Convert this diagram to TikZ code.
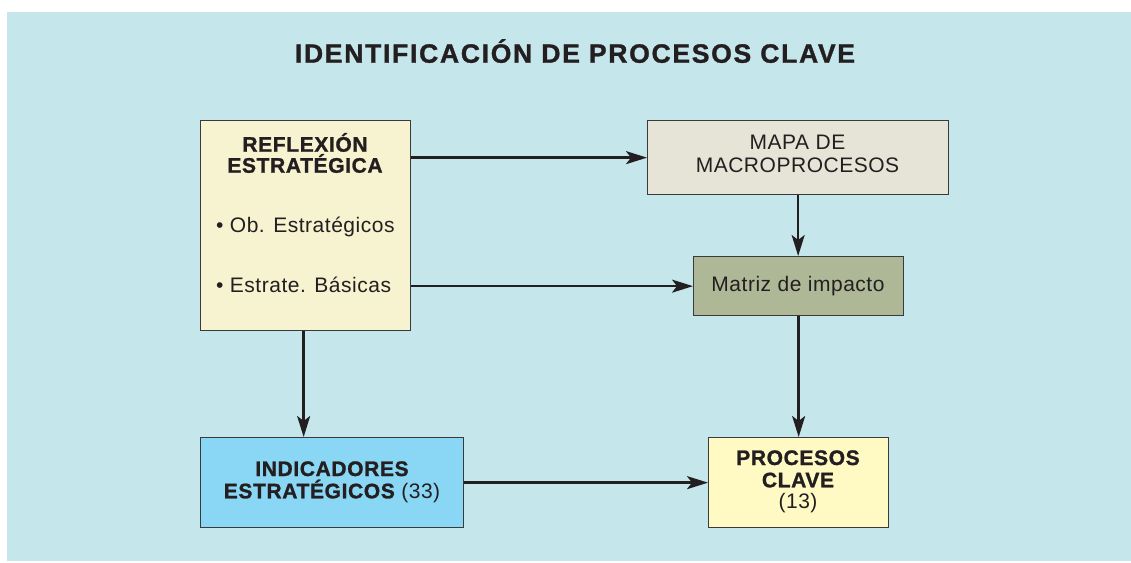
\documentclass[tikz,border=0pt]{standalone}
\usepackage{fontspec}
\setmainfont{Liberation Sans}[LetterSpace=2.5,BoldFeatures={LetterSpace=3,FakeBold=1.2}]
\newfontfamily\titlefont{Liberation Sans}[LetterSpace=6.5,BoldFeatures={LetterSpace=6.5,FakeBold=1.2}]
\usetikzlibrary{arrows.meta}
\definecolor{bg}{HTML}{C5E6EB}
\definecolor{reflc}{HTML}{F7F2D0}
\definecolor{mapac}{HTML}{E6E4D6}
\definecolor{matc}{HTML}{AEB896}
\definecolor{indc}{HTML}{8AD6F5}
\definecolor{procc}{HTML}{FFF9C4}
\definecolor{boxline}{HTML}{3A3A3A}
\definecolor{txt}{HTML}{231F20}
\begin{document}
\begin{tikzpicture}[x=1pt,y=-1pt,
  box/.style={draw=boxline, line width=1.3pt, inner sep=0pt, anchor=north west},
  lbl/.style={anchor=base, inner sep=0pt, text=txt, font=\fontsize{21}{24}\selectfont},
  blbl/.style={lbl, font=\fontsize{21}{24}\selectfont\bfseries},
  arr/.style={line width=2.4pt, draw=txt, -{Stealth[length=21pt,width=13pt,inset=5pt]}}
]
\useasboundingbox (0,0) rectangle (1131,562);
\fill[bg] (7,12) rectangle (1131,561);

\node[anchor=base, inner sep=0pt, text=txt, font=\titlefont\fontsize{26.5}{30}\selectfont\bfseries] (title) at (575,62.7) {IDENTIFICACIÓN DE PROCESOS CLAVE};

\node[box, fill=reflc, minimum width=210pt, minimum height=210pt] (refl) at (200,120) {};
\node[box, fill=mapac, minimum width=301pt, minimum height=74pt] (mapa) at (647,120) {};
\node[box, fill=matc, minimum width=210pt, minimum height=59pt] (mat) at (693,256) {};
\node[box, fill=indc, minimum width=263pt, minimum height=90pt] (ind) at (200,437) {};
\node[box, fill=procc, minimum width=180pt, minimum height=90pt] (proc) at (708,437) {};

\node[blbl] (r1) at (305,151.7) {REFLEXIÓN};
\node[blbl] (r2) at (305,172.7) {ESTRATÉGICA};
\node[lbl, anchor=base west] (r3) at (216,232.5) {• Ob. Estratégicos};
\node[lbl, anchor=base west] (r4) at (216,292) {• Estrate. Básicas};

\node[lbl] (m1) at (797.5,149) {MAPA DE};
\node[lbl] (m2) at (797.5,172) {MACROPROCESOS};

\node[lbl] (t1) at (798,291.7) {Matriz de impacto};

\node[blbl] (i1) at (332,476) {INDICADORES};
\node[lbl] (i2) at (332,498.3) {\bfseries ESTRATÉGICOS \mdseries(33)};

\node[blbl] (p1) at (798,465) {PROCESOS};
\node[blbl] (p2) at (798,487.3) {CLAVE};
\node[lbl] (p3) at (798,508.5) {(13)};

\draw[arr] (refl.east |- mapa.west) -- (mapa.west);
\draw[arr] (refl.east |- mat.west) -- (mat.west);
\draw[arr] ([xshift=-2pt]refl.south) -- ([xshift=-2pt]refl.south |- ind.north);
\draw[arr] (mapa.south) -- (mapa.south |- mat.north);
\draw[arr] (mat.south) -- (mat.south |- proc.north);
\draw[arr] (ind.east) -- (ind.east -| proc.west);
\end{tikzpicture}
\end{document}
